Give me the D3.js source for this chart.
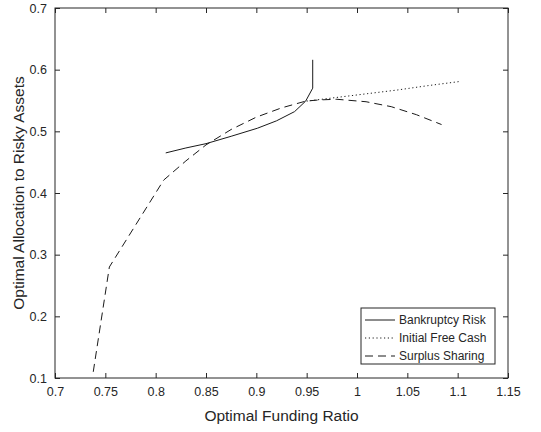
<!DOCTYPE html>
<html>
<head>
<meta charset="utf-8">
<script src="https://cdn.jsdelivr.net/npm/d3@7"></script>
<style>
  html, body { margin: 0; padding: 0; background: #fff; }
  svg text { font-family: "Liberation Sans", Arial, Helvetica, sans-serif; }
</style>
</head>
<body>
<svg id="chart" width="541" height="432"></svg>
<script>
// Optimal funding ratio (x) vs. optimal allocation to risky assets (y)
const bankruptcyX = [0.810, 0.830, 0.850, 0.875, 0.901, 0.920, 0.938, 0.949, 0.956, 0.956];
const bankruptcyY = [0.465, 0.473, 0.480, 0.492, 0.505, 0.517, 0.532, 0.549, 0.570, 0.616];

const freeCashX = [0.950, 0.980, 1.010, 1.040, 1.070, 1.103];
const freeCashY = [0.549, 0.555, 0.561, 0.567, 0.574, 0.581];

const surplusX = [0.738, 0.754, 0.808, 0.830, 0.850, 0.875, 0.900, 0.925, 0.949, 0.963, 0.980, 1.009, 1.034, 1.059, 1.084];
const surplusY = [0.110, 0.280, 0.421, 0.452, 0.478, 0.503, 0.523, 0.538, 0.549, 0.551, 0.552, 0.548, 0.540, 0.527, 0.511];

const xTicks = [0.7, 0.75, 0.8, 0.85, 0.9, 0.95, 1, 1.05, 1.1, 1.15];
const yTicks = [0.1, 0.2, 0.3, 0.4, 0.5, 0.6, 0.7];

const seriesNames = ["Bankruptcy Risk", "Initial Free Cash", "Surplus Sharing"];
const seriesDash = [null, "1.2,2.6", "8,5"];

const ink = "#262626";
const lineInk = "#1a1a1a";

const svg = d3.select("#chart");
const plot = { left: 55, right: 508, top: 8, bottom: 378 };

const x = d3.scaleLinear().domain([0.7, 1.15]).range([plot.left, plot.right]);
const y = d3.scaleLinear().domain([0.1, 0.7]).range([plot.bottom, plot.top]);

const tickLen = 5;
const fmt = d => String(+d.toFixed(2));

// bottom axis with labels, inward ticks
const gB = svg.append("g").attr("transform", `translate(0,${plot.bottom})`)
  .call(d3.axisBottom(x).tickValues(xTicks).tickFormat(fmt).tickSizeInner(-tickLen).tickSizeOuter(0).tickPadding(9));
// left axis with labels
const gL = svg.append("g").attr("transform", `translate(${plot.left},0)`)
  .call(d3.axisLeft(y).tickValues(yTicks).tickFormat(fmt).tickSizeInner(-tickLen).tickSizeOuter(0).tickPadding(8));
// top and right: ticks only
const gT = svg.append("g").attr("transform", `translate(0,${plot.top})`)
  .call(d3.axisTop(x).tickValues(xTicks).tickFormat("").tickSizeInner(-tickLen).tickSizeOuter(0));
const gR = svg.append("g").attr("transform", `translate(${plot.right},0)`)
  .call(d3.axisRight(y).tickValues(yTicks).tickFormat("").tickSizeInner(-tickLen).tickSizeOuter(0));

[gB, gL, gT, gR].forEach(g => {
  g.select(".domain").remove();
  g.selectAll("line").attr("stroke", ink).attr("stroke-width", 1);
  g.selectAll("text").attr("fill", ink).attr("font-size", 12.5);
});

// box
svg.append("rect")
  .attr("x", plot.left).attr("y", plot.top)
  .attr("width", plot.right - plot.left).attr("height", plot.bottom - plot.top)
  .attr("fill", "none").attr("stroke", ink).attr("stroke-width", 1);

// data lines
const line = d3.line().x(d => x(d[0])).y(d => y(d[1]));
const series = [
  d3.zip(bankruptcyX, bankruptcyY),
  d3.zip(freeCashX, freeCashY),
  d3.zip(surplusX, surplusY)
];
series.forEach((pts, i) => {
  svg.append("path")
    .attr("d", line(pts))
    .attr("fill", "none")
    .attr("stroke", lineInk)
    .attr("stroke-width", 1)
    .attr("stroke-dasharray", seriesDash[i]);
});

// axis titles
svg.append("text")
  .attr("x", (plot.left + plot.right) / 2).attr("y", 421)
  .attr("text-anchor", "middle")
  .attr("font-size", 15.5).attr("fill", ink)
  .text("Optimal Funding Ratio");
svg.append("text")
  .attr("transform", `translate(24,${(plot.top + plot.bottom) / 2}) rotate(-90)`)
  .attr("text-anchor", "middle")
  .attr("font-size", 15.5).attr("fill", ink)
  .text("Optimal Allocation to Risky Assets");

// legend
const lg = svg.append("g");
lg.append("rect")
  .attr("x", 361).attr("y", 308).attr("width", 134).attr("height", 56)
  .attr("fill", "#fff").attr("stroke", ink).attr("stroke-width", 1);
seriesNames.forEach((name, i) => {
  const ry = 320 + i * 18;
  lg.append("line")
    .attr("x1", 365).attr("x2", 395).attr("y1", ry).attr("y2", ry)
    .attr("stroke", lineInk).attr("stroke-width", 1)
    .attr("stroke-dasharray", seriesDash[i]);
  lg.append("text")
    .attr("x", 399).attr("y", ry + 4)
    .attr("font-size", 12).attr("fill", ink)
    .text(name);
});
</script>
</body>
</html>
